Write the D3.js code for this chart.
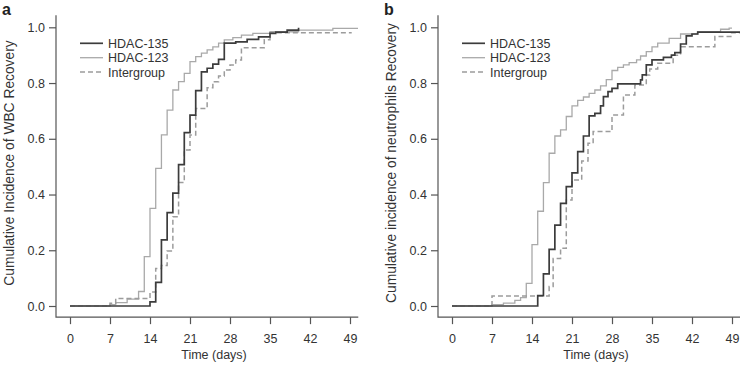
<!DOCTYPE html>
<html>
<head>
<meta charset="utf-8">
<script src="https://cdn.jsdelivr.net/npm/d3@7"></script>
<style>
  body { margin: 0; background: #fff; }
  svg { display: block; font-family: "Liberation Sans", Arial, Helvetica, sans-serif; }
</style>
</head>
<body>
<div id="chart"></div>
<script>
// tick labels
const dayTicks = [0, 7, 14, 21, 28, 35, 42, 49];
const ciTicks = [0, 0.2, 0.4, 0.6, 0.8, 1.0];
const groupNames = ["HDAC-135", "HDAC-123", "Intergroup"];

// panel a - WBC recovery (step times in days, cumulative incidence)
const wbc135Days = [0, 14, 15, 16, 17, 18, 19, 20, 21, 22, 23, 24, 25, 26, 27, 29, 31, 33, 35, 36, 38, 40];
const wbc135Ci   = [0, 0.015, 0.085, 0.237, 0.335, 0.405, 0.507, 0.622, 0.685, 0.773, 0.84, 0.853, 0.868, 0.885, 0.943, 0.948, 0.957, 0.966, 0.978, 0.983, 0.99, 0.998];
const wbc135End  = 40;

const wbc123Days = [0, 7, 8, 10, 12, 13, 14, 15, 16, 17, 18, 19, 20, 21, 22, 23, 24, 25, 26, 27, 28.5, 30, 32, 35, 40, 46];
const wbc123Ci   = [0, 0.005, 0.012, 0.025, 0.052, 0.177, 0.35, 0.494, 0.614, 0.703, 0.775, 0.805, 0.835, 0.877, 0.895, 0.907, 0.919, 0.93, 0.943, 0.955, 0.963, 0.972, 0.978, 0.984, 0.99, 0.996];
const wbc123End  = 50.4;

const wbcIntDays = [0, 7, 8, 14, 15, 16, 17, 18, 19, 20, 21, 22, 24, 25, 26, 27, 28, 29, 30, 34, 35];
const wbcIntCi   = [0, 0.01, 0.027, 0.05, 0.135, 0.145, 0.197, 0.32, 0.443, 0.56, 0.614, 0.709, 0.783, 0.805, 0.825, 0.847, 0.865, 0.883, 0.927, 0.955, 0.98];
const wbcIntEnd  = 49.3;

// panel b - neutrophils recovery
const neu135Days = [0, 15, 16, 17, 18, 19, 20, 21, 22, 23, 24, 25, 26, 26.5, 27.3, 28, 29, 33, 33.3, 34, 35, 37, 38.4, 39, 40, 41, 42, 43];
const neu135Ci   = [0, 0.037, 0.115, 0.203, 0.29, 0.368, 0.428, 0.478, 0.554, 0.61, 0.682, 0.691, 0.718, 0.751, 0.769, 0.781, 0.797, 0.811, 0.829, 0.865, 0.883, 0.892, 0.9, 0.909, 0.94, 0.969, 0.976, 0.983];
const neu135End  = 51;

const neu123Days = [0, 7, 9, 11, 12, 13, 14, 15, 16, 17, 18, 19, 20, 21, 22, 23, 24, 25, 26, 27, 28, 29, 30, 31, 32.3, 33, 34, 35, 36, 38, 40, 43, 47, 48.5];
const neu123Ci   = [0, 0.005, 0.01, 0.02, 0.03, 0.081, 0.22, 0.34, 0.443, 0.548, 0.61, 0.632, 0.68, 0.718, 0.738, 0.75, 0.763, 0.775, 0.79, 0.812, 0.845, 0.856, 0.865, 0.873, 0.883, 0.897, 0.913, 0.93, 0.943, 0.96, 0.976, 0.984, 0.993, 0.997];
const neu123End  = 49;

const neuIntDays = [0, 7, 17, 17.7, 19, 20, 21, 22.7, 23.8, 24.7, 28, 30, 32, 34, 34.6, 36, 38.7, 40, 46, 48.8];
const neuIntCi   = [0, 0.036, 0.07, 0.17, 0.207, 0.38, 0.452, 0.52, 0.584, 0.626, 0.685, 0.757, 0.793, 0.829, 0.85, 0.871, 0.9, 0.93, 0.967, 0.98];
const neuIntEnd  = 51;

const lineStyles = [
  { color: "#3c3c3c", width: 1.7, dash: null },
  { color: "#a9a9a9", width: 1.3, dash: null },
  { color: "#9c9c9c", width: 1.5, dash: "5,3" }
];

const panels = [
  {
    label: "a", offset: 0,
    yTitle: "Cumulative Incidence of WBC Recovery",
    series: [
      [wbc135Days, wbc135Ci, wbc135End],
      [wbc123Days, wbc123Ci, wbc123End],
      [wbcIntDays, wbcIntCi, wbcIntEnd]
    ]
  },
  {
    label: "b", offset: 382,
    yTitle: "Cumulative incidence of neutrophils Recovery",
    series: [
      [neu135Days, neu135Ci, neu135End],
      [neu123Days, neu123Ci, neu123End],
      [neuIntDays, neuIntCi, neuIntEnd]
    ]
  }
];

const svg = d3.select("#chart").append("svg")
  .attr("width", 740)
  .attr("height", 365);

const textColor = "#333";
const axisColor = "#555";

function drawPanel(p) {
  const g = svg.append("g").attr("transform", `translate(${p.offset},0)`);

  const x = d3.scaleLinear().domain([0, 49]).range([70, 350]);
  const y = d3.scaleLinear().domain([0, 1]).range([306, 27.3]);

  // L-shaped box like R bty="l"
  const left = x(-2.45), right = x(50.45);
  const top = y(1.043), bottom = y(-0.04);
  g.append("path")
    .attr("d", `M${left},${top}V${bottom}H${right}`)
    .attr("fill", "none")
    .attr("stroke", axisColor)
    .attr("stroke-width", 1.2);

  const xAxis = g.append("g")
    .attr("transform", `translate(0,${bottom})`)
    .call(d3.axisBottom(x).tickValues(dayTicks).tickSize(7).tickSizeOuter(0));
  xAxis.select(".domain").remove();
  xAxis.selectAll("line").attr("stroke", axisColor).attr("stroke-width", 1.2);
  xAxis.selectAll("text")
    .attr("y", 26).attr("dy", null)
    .attr("fill", textColor)
    .style("font-size", "12.5px");

  const yAxis = g.append("g")
    .attr("transform", `translate(${left},0)`)
    .call(d3.axisLeft(y).tickValues(ciTicks).tickFormat(d3.format(".1f")).tickSize(7).tickPadding(4));
  yAxis.select(".domain").remove();
  yAxis.selectAll("line").attr("stroke", axisColor).attr("stroke-width", 1.2);
  yAxis.selectAll("text")
    .attr("fill", textColor)
    .style("font-size", "12.5px");

  g.append("text")
    .attr("x", 214)
    .attr("y", 359)
    .attr("text-anchor", "middle")
    .attr("fill", textColor)
    .style("font-size", "12.5px")
    .text("Time (days)");

  g.append("text")
    .attr("transform", "translate(14,163) rotate(-90)")
    .attr("text-anchor", "middle")
    .attr("fill", textColor)
    .style("font-size", "13.8px")
    .text(p.yTitle);

  g.append("text")
    .attr("x", 2)
    .attr("y", 15)
    .attr("fill", "#222")
    .style("font-size", "16px")
    .style("font-weight", "bold")
    .text(p.label);

  const line = d3.line()
    .x(d => x(d[0]))
    .y(d => y(d[1]))
    .curve(d3.curveStepAfter);

  // draw light, dashed, then dark on top
  [1, 2, 0].forEach(i => {
    const [days, ci, end] = p.series[i];
    const pts = days.map((t, k) => [t, ci[k]]);
    pts.push([end, ci[ci.length - 1]]);
    const st = lineStyles[i];
    g.append("path")
      .datum(pts)
      .attr("d", line)
      .attr("fill", "none")
      .attr("stroke", st.color)
      .attr("stroke-width", st.width)
      .attr("stroke-dasharray", st.dash);
  });

  // legend
  const legend = g.append("g");
  groupNames.forEach((name, i) => {
    const ly = 43.3 + i * 14.4;
    const st = lineStyles[i];
    legend.append("line")
      .attr("x1", 80).attr("x2", 103)
      .attr("y1", ly).attr("y2", ly)
      .attr("stroke", st.color)
      .attr("stroke-width", st.width)
      .attr("stroke-dasharray", st.dash);
    legend.append("text")
      .attr("x", 108)
      .attr("y", ly + 4.5)
      .attr("fill", textColor)
      .style("font-size", "12.5px")
      .text(name);
  });
}

panels.forEach(drawPanel);
</script>
</body>
</html>
